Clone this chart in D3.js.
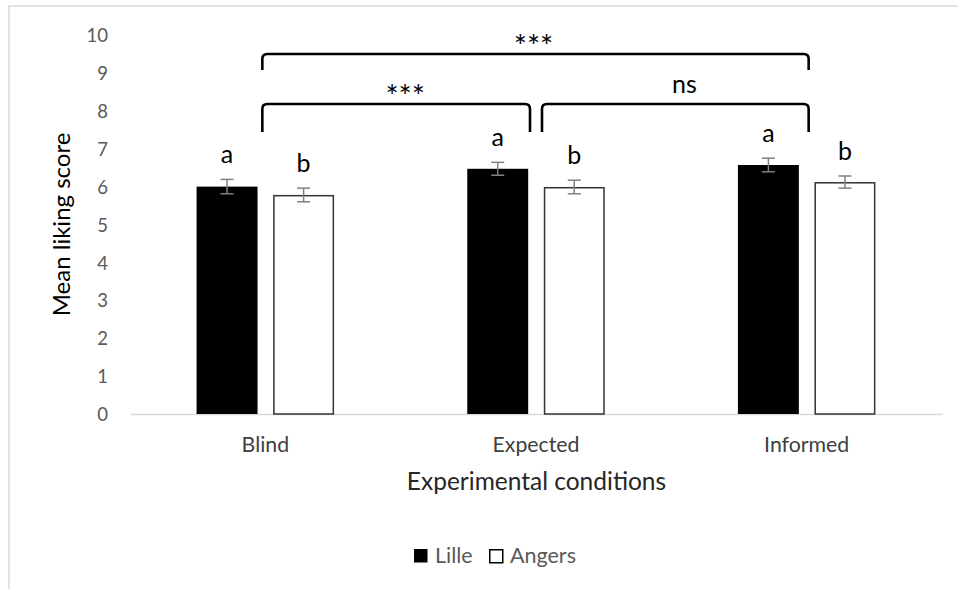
<!DOCTYPE html>
<html>
<head>
<meta charset="utf-8">
<script src="https://cdn.jsdelivr.net/npm/d3@7"></script>
<style>
  body { margin: 0; background: #fff; }
  svg { display: block; font-family: Lato, "Open Sans", sans-serif; }
</style>
</head>
<body>
<svg id="chart" width="958" height="589"></svg>
<script>
// Mean liking scores per condition and city, with standard errors
const categories = ["Blind", "Expected", "Informed"];
const seriesNames = ["Lille", "Angers"];
const lilleMeans = [6.00, 6.47, 6.57];
const angersMeans = [5.78, 5.99, 6.12];
const lilleErrors = [0.19, 0.17, 0.18];
const angersErrors = [0.18, 0.18, 0.16];
const lilleLetters = ["a", "a", "a"];
const angersLetters = ["b", "b", "b"];
const yTicks = [0, 1, 2, 3, 4, 5, 6, 7, 8, 9, 10];
const comparisonFrom = ["Blind", "Blind", "Expected"];
const comparisonTo = ["Informed", "Expected", "Informed"];
const comparisonLabels = ["***", "***", "ns"];

const svg = d3.select("#chart");

// outer chart frame
svg.append("rect")
  .attr("x", 9).attr("y", 6)
  .attr("width", 1000).attr("height", 700)
  .attr("fill", "none")
  .attr("stroke", "#d9d9d9")
  .attr("stroke-width", 1.5);

const plot = { left: 130, right: 942, top: 35, bottom: 414 };

const x0 = d3.scaleBand().domain(categories).range([plot.left, plot.right]);
const bw = x0.bandwidth();
const x1 = d3.scaleBand().domain(seriesNames)
  .range([0.246 * bw, 0.754 * bw]).paddingInner(0.204);
const y = d3.scaleLinear().domain([0, 10]).range([plot.bottom, plot.top]);

// y tick labels (no axis line)
const yAxis = d3.axisLeft(y).tickValues(yTicks).tickSize(0).tickPadding(0);
const yg = svg.append("g").attr("transform", "translate(108,0)").call(yAxis)
  .attr("font-family", null).attr("font-size", null);
yg.select(".domain").remove();
yg.selectAll("text")
  .attr("fill", "#595959")
  .style("font-size", "18.5px")
  .attr("dy", "0.36em");

// category axis: light baseline + labels
const xAxis = d3.axisBottom(x0).tickSize(0).tickPadding(0);
const xg = svg.append("g").attr("transform", `translate(0,${plot.bottom})`).call(xAxis)
  .attr("font-family", null).attr("font-size", null);
xg.select(".domain").attr("stroke", "#d9d9d9").attr("stroke-width", 1.5);
xg.selectAll("text")
  .attr("fill", "#404040")
  .style("font-size", "21.3px")
  .attr("y", 37.5)
  .attr("dy", 0);

const rows = categories.map((c, i) => ({
  cat: c,
  values: [
    { s: "Lille", v: lilleMeans[i], e: lilleErrors[i], letter: lilleLetters[i] },
    { s: "Angers", v: angersMeans[i], e: angersErrors[i], letter: angersLetters[i] }
  ]
}));

const groups = svg.append("g").selectAll("g")
  .data(rows).join("g")
  .attr("transform", d => `translate(${x0(d.cat)},0)`);

// bars: Lille solid black, Angers white with dark outline
const sw = 1.5;
groups.selectAll("rect.bar")
  .data(d => d.values).join("rect")
  .attr("class", "bar")
  .attr("x", d => x1(d.s) + (d.s === "Angers" ? sw / 2 : 0))
  .attr("width", d => x1.bandwidth() - (d.s === "Angers" ? sw : 0))
  .attr("y", d => y(d.v) + (d.s === "Angers" ? sw / 2 : 0))
  .attr("height", d => y(0) - y(d.v) - (d.s === "Angers" ? sw / 2 : 0))
  .attr("fill", d => d.s === "Lille" ? "#000" : "#fff")
  .attr("stroke", d => d.s === "Lille" ? "none" : "#333")
  .attr("stroke-width", sw);

// error bars
const cap = 6.5;
const eb = groups.selectAll("g.err")
  .data(d => d.values).join("g")
  .attr("class", "err")
  .attr("transform", d => `translate(${x1(d.s) + x1.bandwidth() / 2},0)`)
  .attr("stroke", "#808080")
  .attr("stroke-width", 1.5);
eb.append("line").attr("x1", 0).attr("x2", 0)
  .attr("y1", d => y(d.v + d.e)).attr("y2", d => y(d.v - d.e));
eb.append("line").attr("x1", -cap).attr("x2", cap)
  .attr("y1", d => y(d.v + d.e)).attr("y2", d => y(d.v + d.e));
eb.append("line").attr("x1", -cap).attr("x2", cap)
  .attr("y1", d => y(d.v - d.e)).attr("y2", d => y(d.v - d.e));

// significance letters above each bar
groups.selectAll("text.letter")
  .data(d => d.values).join("text")
  .attr("class", "letter")
  .attr("x", d => x1(d.s) + x1.bandwidth() / 2)
  .attr("y", d => y(d.v + d.e) - 16)
  .attr("text-anchor", "middle")
  .attr("fill", "#000")
  .style("font-size", "25px")
  .text(d => d.letter);

// comparison brackets
const center = c => x0(c) + bw / 2;
const comparisons = comparisonFrom.map((f, i) => ({ from: f, to: comparisonTo[i], label: comparisonLabels[i] }));
const spanOf = d => categories.indexOf(d.to) - categories.indexOf(d.from);
function bracketLayout(d) {
  const wide = spanOf(d) > 1;
  let xa = center(d.from), xb = center(d.to);
  // ends that meet at a shared category are pulled apart slightly
  xa += d.from === "Blind" ? -3 : 6;
  xb += d.to === "Informed" ? 2 : -6;
  const top = wide ? y(9.50) : y(8.18);
  const bottom = top + (wide ? 16 : 28);
  return { xa, xb, top, bottom, wide };
}
const r = 5;
const br = svg.append("g").selectAll("g").data(comparisons).join("g");
br.append("path")
  .attr("fill", "none")
  .attr("stroke", "#000")
  .attr("stroke-width", 2.6)
  .attr("d", d => {
    const b = bracketLayout(d);
    return `M${b.xa},${b.bottom} L${b.xa},${b.top + r} Q${b.xa},${b.top} ${b.xa + r},${b.top}` +
           ` L${b.xb - r},${b.top} Q${b.xb},${b.top} ${b.xb},${b.top + r} L${b.xb},${b.bottom}`;
  });
br.append("text")
  .attr("x", d => { const b = bracketLayout(d); return (b.xa + b.xb) / 2 + (b.wide ? -2 : 9); })
  .attr("y", d => { const b = bracketLayout(d); return d.label === "ns" ? b.top - 11 : b.top + 2.7; })
  .attr("text-anchor", "middle")
  .attr("fill", "#000")
  .style("font-size", d => d.label === "ns" ? "25px" : "31px")
  .text(d => d.label);

// axis titles
svg.append("text")
  .attr("transform", `translate(70,${(plot.top + plot.bottom) / 2}) rotate(-90)`)
  .attr("text-anchor", "middle")
  .attr("fill", "#000")
  .style("font-size", "24px")
  .text("Mean liking score");

svg.append("text")
  .attr("x", 536.5).attr("y", 490)
  .attr("text-anchor", "middle")
  .attr("fill", "#262626")
  .style("font-size", "24.5px")
  .text("Experimental conditions");

// legend
const legendX = [414, 489];
const lg = svg.append("g").selectAll("g").data(seriesNames).join("g")
  .attr("transform", (d, i) => `translate(${legendX[i]},549)`);
lg.append("rect")
  .attr("x", (d, i) => i ? 0.75 : 0).attr("y", (d, i) => i ? 0.75 : 0)
  .attr("width", (d, i) => i ? 13 : 13.5).attr("height", (d, i) => i ? 13 : 13.5)
  .attr("fill", (d, i) => i ? "#fff" : "#000")
  .attr("stroke", (d, i) => i ? "#000" : "none")
  .attr("stroke-width", 1.5);
lg.append("text")
  .attr("x", 21).attr("y", 13.5)
  .attr("fill", "#595959")
  .style("font-size", "21.5px")
  .text(d => d);
</script>
</body>
</html>
